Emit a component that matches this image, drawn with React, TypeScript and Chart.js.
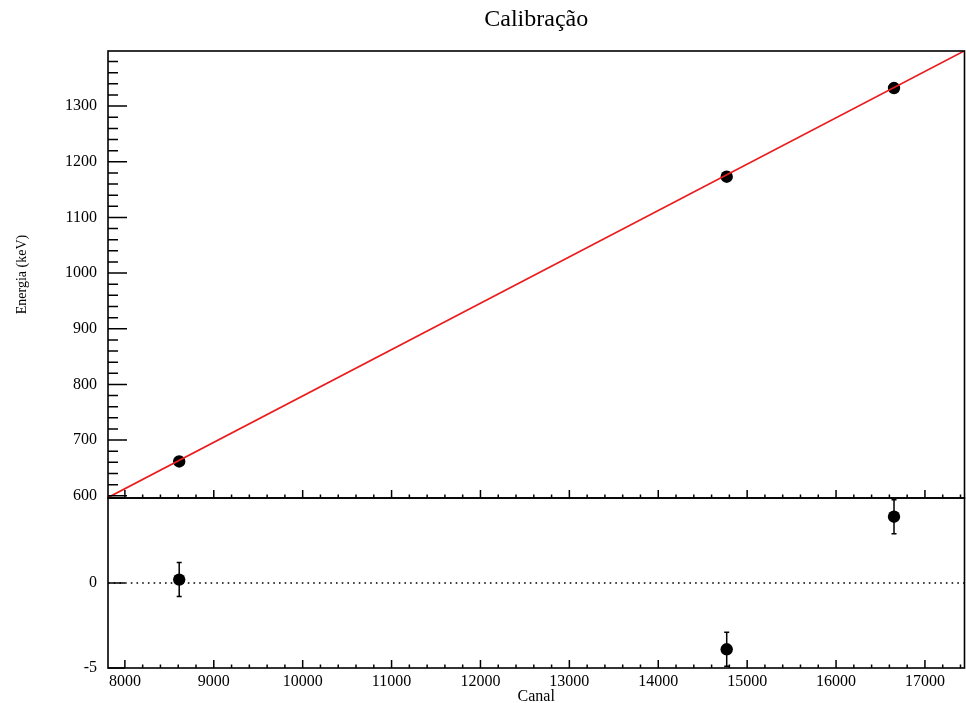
import { useEffect, useRef } from 'react';
import { Chart, registerables } from 'chart.js';

Chart.register(...registerables);

// ---- text ----
const titleText = 'Calibração';
const xTitle = 'Canal';
const yTitle = 'Energia (keV)';

// ---- data ----
const channels = [8611, 14770, 16652];
const energies = [661.7, 1173.2, 1332.5];
const residuals = [0.2, -3.9, 3.9];
const residualErrors = [1.0, 1.0, 1.0];

// fitted calibration line (endpoints read at the frame edges)
const fitX = [7810, 17445];
const fitY = [596.8, 1399.3];

// zero reference line in the residual panel
const zeroX = [7810, 17445];
const zeroY = [0, 0];

// ---- axes ----
const xRange = [7810, 17445];
const yTopRange = [596, 1399];
const yBottomRange = [-5, 5];

const xMajorTicks = [8000, 9000, 10000, 11000, 12000, 13000, 14000, 15000, 16000, 17000];
const xMinorStep = 200;
const yTopMajorTicks = [600, 700, 800, 900, 1000, 1100, 1200, 1300];
const yTopMinorStep = 20;
const yBottomMajorTicks = [-5, 0, 5];
const yBottomLabels = [-5, 0];

const FONT = "'Liberation Serif', 'Times New Roman', serif";

function minorTicks(min: number, max: number, step: number, majors: number[]) {
  const out: number[] = [];
  const start = Math.ceil(min / step) * step;
  for (let v = start; v <= max + 1e-9; v += step) {
    if (!majors.includes(v)) out.push(v);
  }
  return out;
}

const framePlugin = {
  id: 'rootFrame',
  beforeDatasetsDraw(chart: any) {
    const ctx = chart.ctx;
    const x = chart.scales.x;
    const y2 = chart.scales.y2;
    ctx.save();
    ctx.strokeStyle = '#000';
    ctx.lineWidth = 1.5;
    channels.forEach((c, i) => {
      const px = x.getPixelForValue(c);
      const yHi = y2.getPixelForValue(residuals[i] + residualErrors[i]);
      const yLo = y2.getPixelForValue(residuals[i] - residualErrors[i]);
      ctx.beginPath();
      ctx.moveTo(px, yHi);
      ctx.lineTo(px, yLo);
      ctx.moveTo(px - 2.5, yHi);
      ctx.lineTo(px + 2.5, yHi);
      ctx.moveTo(px - 2.5, yLo);
      ctx.lineTo(px + 2.5, yLo);
      ctx.stroke();
    });
    ctx.restore();
  },
  afterDatasetsDraw(chart: any) {
    const ctx = chart.ctx;
    const x = chart.scales.x;
    const y = chart.scales.y;
    const y2 = chart.scales.y2;
    ctx.save();
    ctx.strokeStyle = '#000';
    ctx.lineWidth = 1.5;

    // x ticks on bottom of each panel (pointing up)
    const xMinors = minorTicks(xRange[0], xRange[1], xMinorStep, xMajorTicks);
    [y.bottom, y2.bottom].forEach((base: number) => {
      ctx.beginPath();
      xMajorTicks.forEach((v) => {
        const px = x.getPixelForValue(v);
        ctx.moveTo(px, base);
        ctx.lineTo(px, base - 8);
      });
      xMinors.forEach((v) => {
        const px = x.getPixelForValue(v);
        ctx.moveTo(px, base);
        ctx.lineTo(px, base - 3.5);
      });
      ctx.stroke();
    });

    // y ticks top panel
    const yMinors = minorTicks(yTopRange[0], yTopRange[1], yTopMinorStep, yTopMajorTicks);
    ctx.beginPath();
    yTopMajorTicks.forEach((v) => {
      const py = y.getPixelForValue(v);
      ctx.moveTo(x.left, py);
      ctx.lineTo(x.left + 19, py);
    });
    yMinors.forEach((v) => {
      const py = y.getPixelForValue(v);
      ctx.moveTo(x.left, py);
      ctx.lineTo(x.left + 10, py);
    });
    // y ticks bottom panel
    yBottomMajorTicks.forEach((v) => {
      const py = y2.getPixelForValue(v);
      ctx.moveTo(x.left, py);
      ctx.lineTo(x.left + 17, py);
    });
    ctx.stroke();

    // frames
    ctx.lineWidth = 1.6;
    ctx.strokeRect(x.left, y.top, x.right - x.left, y.bottom - y.top);
    ctx.strokeRect(x.left, y2.top, x.right - x.left, y2.bottom - y2.top);
    ctx.restore();
  },
};

export default function App() {
  const ref = useRef<HTMLCanvasElement | null>(null);

  useEffect(() => {
    if (!ref.current) return;
    const chart = new Chart(ref.current, {
      type: 'scatter',
      data: {
        datasets: [
          {
            type: 'line',
            label: 'fit',
            data: fitX.map((v, i) => ({ x: v, y: fitY[i] })),
            borderColor: 'rgb(235, 28, 30)',
            borderWidth: 1.7,
            pointRadius: 0,
            xAxisID: 'x',
            yAxisID: 'y',
          },
          {
            type: 'line',
            label: 'zero',
            data: zeroX.map((v, i) => ({ x: v, y: zeroY[i] })),
            borderColor: '#000',
            borderWidth: 1.4,
            borderDash: [1.6, 4.1],
            pointRadius: 0,
            xAxisID: 'x',
            yAxisID: 'y2',
          },
          {
            label: 'Energia',
            data: channels.map((c, i) => ({ x: c, y: energies[i] })),
            backgroundColor: '#000',
            borderWidth: 0,
            pointRadius: 6.2,
            xAxisID: 'x',
            yAxisID: 'y',
          },
          {
            label: 'Resíduos',
            data: channels.map((c, i) => ({ x: c, y: residuals[i] })),
            backgroundColor: '#000',
            borderWidth: 0,
            pointRadius: 6.2,
            xAxisID: 'x',
            yAxisID: 'y2',
          },
        ],
      },
      options: {
        animation: false,
        responsive: false,
        layout: { autoPadding: false, padding: { left: 0, right: 1.5, top: 0, bottom: 0 } },
        plugins: {
          legend: { display: false },
          tooltip: { enabled: false },
          title: {
            display: true,
            text: titleText,
            color: '#000',
            fullSize: false,
            font: { family: FONT, size: 24, weight: 'normal', lineHeight: 1.2 },
            padding: { top: 5, bottom: 17.2 },
          },
        },
        scales: {
          x: {
            type: 'linear',
            position: 'bottom',
            min: xRange[0],
            max: xRange[1],
            grid: { display: false, drawTicks: false },
            border: { display: false },
            afterBuildTicks: (s: any) => {
              s.ticks = xMajorTicks.map((v) => ({ value: v }));
            },
            afterFit: (s: any) => {
              s.height = 35;
              s.paddingLeft = 0;
              s.paddingRight = 0;
            },
            ticks: {
              autoSkip: false,
              maxRotation: 0,
              padding: 4,
              color: '#000',
              font: { family: FONT, size: 16 },
              callback: (v: any) => String(v),
            },
            title: {
              display: true,
              text: xTitle,
              color: '#000',
              font: { family: FONT, size: 16, lineHeight: 0.8 },
              padding: { top: 0, bottom: 0 },
            },
          },
          y2: {
            type: 'linear',
            position: 'left',
            stack: 'panels',
            stackWeight: 170,
            min: yBottomRange[0],
            max: yBottomRange[1],
            grid: { display: false, drawTicks: false },
            border: { display: false },
            afterBuildTicks: (s: any) => {
              s.ticks = yBottomLabels.map((v) => ({ value: v }));
            },
            afterFit: (s: any) => {
              s.width = 108;
            },
            ticks: {
              autoSkip: false,
              padding: 11,
              color: '#000',
              font: { family: FONT, size: 16 },
              callback: (v: any) => String(v),
            },
          },
          y: {
            type: 'linear',
            position: 'left',
            stack: 'panels',
            stackWeight: 447,
            min: yTopRange[0],
            max: yTopRange[1],
            grid: { display: false, drawTicks: false },
            border: { display: false },
            afterBuildTicks: (s: any) => {
              s.ticks = yTopMajorTicks.map((v) => ({ value: v }));
            },
            afterFit: (s: any) => {
              s.width = 108;
            },
            ticks: {
              autoSkip: false,
              padding: 11,
              color: '#000',
              font: { family: FONT, size: 16 },
              callback: (v: any) => String(v),
            },
            title: {
              display: true,
              text: yTitle,
              color: '#000',
              font: { family: FONT, size: 14, lineHeight: 1.2 },
              padding: { top: 14, bottom: 0 },
            },
          },
        },
      },
      plugins: [framePlugin],
    } as any);
    return () => chart.destroy();
  }, []);

  return (
    <div style={{ position: 'fixed', left: 0, top: 0, width: 966, height: 703, background: '#fff' }}>
      <canvas ref={ref} width={966} height={703} style={{ display: 'block' }} />
    </div>
  );
}
